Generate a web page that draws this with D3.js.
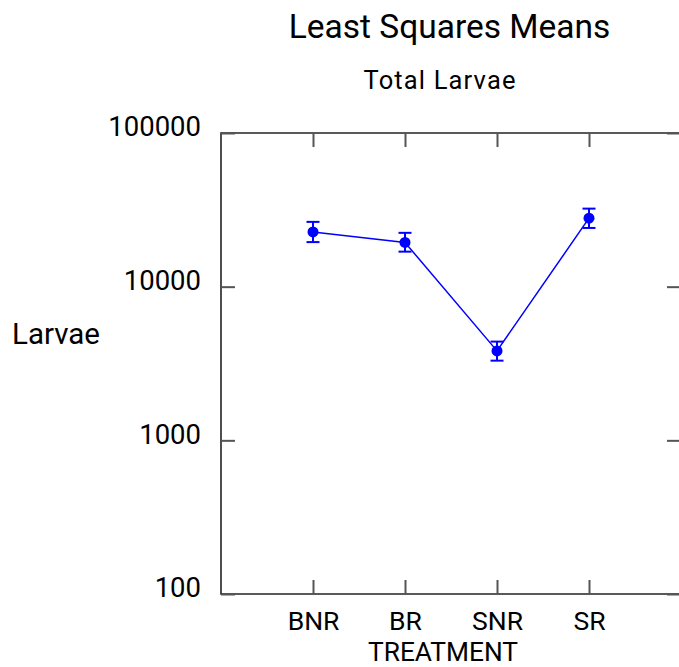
<!DOCTYPE html>
<html>
<head>
<meta charset="utf-8">
<script src="https://cdn.jsdelivr.net/npm/d3@7"></script>
<style>
  html, body { margin: 0; padding: 0; background: #fff; overflow: hidden; width: 679px; height: 667px; }
  svg { display: block; }
  text { font-family: Roboto, "Liberation Sans", Arial, sans-serif; fill: #000; }
</style>
</head>
<body>
<script>
const categories = ["BNR", "BR", "SNR", "SR"];
const means = [22700, 19400, 3820, 27900];
const upper = [26400, 22400, 4390, 32200];
const lower = [19500, 16900, 3300, 24100];
const yTicks = [100, 1000, 10000, 100000];
const yTickLabels = ["100", "1000", "10000", "100000"];

const W = 679, H = 667;
const svg = d3.select("body").append("svg").attr("width", W).attr("height", H);

const pLeft = 221, pRight = 681, pTop = 133, pBottom = 594;

const x = d3.scalePoint().domain(categories).range([pLeft, pRight]).padding(1);
const y = d3.scaleLog().domain([100, 100000]).range([pBottom, pTop]);

// frame (right edge lies just outside the picture)
const frame = svg.append("g").attr("stroke", "#222").attr("stroke-width", 1.6).attr("fill", "none");
frame.append("line").attr("x1", pLeft).attr("x2", W).attr("y1", pTop).attr("y2", pTop);
frame.append("line").attr("x1", pLeft).attr("x2", W).attr("y1", pBottom).attr("y2", pBottom);
frame.append("line").attr("x1", pLeft).attr("x2", pLeft).attr("y1", pTop - 0.8).attr("y2", pBottom + 0.8);

const tickLen = 14;
const tickColor = "#555";
const fontFam = "Roboto, 'Liberation Sans', Arial, sans-serif";

// y axis (left) with inward ticks
const yAxisL = d3.axisLeft(y).tickValues(yTicks)
  .tickFormat((d, i) => yTickLabels[i]).tickSizeInner(-tickLen).tickSizeOuter(0).tickPadding(20);
const gL = svg.append("g").attr("transform", `translate(${pLeft},0)`).call(yAxisL);
gL.select(".domain").remove();
gL.selectAll(".tick line").attr("stroke", tickColor).attr("stroke-width", 2);
gL.selectAll(".tick text").attr("font-size", 27.5).attr("dy", "0.1em")
  .attr("fill", "#000").style("font-family", fontFam);

// y axis right inward ticks
const yAxisR = d3.axisRight(y).tickValues(yTicks).tickFormat("").tickSizeInner(-tickLen).tickSizeOuter(0);
const gR = svg.append("g").attr("transform", `translate(${pRight},0)`).call(yAxisR);
gR.select(".domain").remove();
gR.selectAll(".tick line").attr("stroke", tickColor).attr("stroke-width", 2);

// x axis bottom
const xAxisB = d3.axisBottom(x).tickSizeInner(-tickLen).tickSizeOuter(0).tickPadding(17);
const gB = svg.append("g").attr("transform", `translate(0,${pBottom})`).call(xAxisB);
gB.select(".domain").remove();
gB.selectAll(".tick line").attr("stroke", tickColor).attr("stroke-width", 2);
gB.selectAll(".tick text").attr("font-size", 26.5)
  .attr("fill", "#000").style("font-family", fontFam);

// x axis top
const xAxisT = d3.axisTop(x).tickFormat("").tickSizeInner(-tickLen).tickSizeOuter(0);
const gT = svg.append("g").attr("transform", `translate(0,${pTop})`).call(xAxisT);
gT.select(".domain").remove();
gT.selectAll(".tick line").attr("stroke", tickColor).attr("stroke-width", 2);

// data
const data = categories.map((c, i) => ({ c, m: means[i], u: upper[i], l: lower[i] }));
const blue = "#0000ff";

svg.append("path").datum(data)
  .attr("fill", "none").attr("stroke", blue).attr("stroke-width", 1.5)
  .attr("d", d3.line().x(d => x(d.c)).y(d => y(d.m)));

const eb = svg.append("g").attr("stroke", blue).attr("stroke-width", 2);
eb.selectAll(".v").data(data).join("line").attr("class", "v")
  .attr("x1", d => x(d.c)).attr("x2", d => x(d.c))
  .attr("y1", d => y(d.u)).attr("y2", d => y(d.l));
eb.selectAll(".cu").data(data).join("line").attr("class", "cu")
  .attr("x1", d => x(d.c) - 6.5).attr("x2", d => x(d.c) + 6.5)
  .attr("y1", d => y(d.u)).attr("y2", d => y(d.u));
eb.selectAll(".cl").data(data).join("line").attr("class", "cl")
  .attr("x1", d => x(d.c) - 6.5).attr("x2", d => x(d.c) + 6.5)
  .attr("y1", d => y(d.l)).attr("y2", d => y(d.l));

svg.append("g").selectAll("circle").data(data).join("circle")
  .attr("cx", d => x(d.c)).attr("cy", d => y(d.m)).attr("r", 5.5)
  .attr("fill", blue);

// titles
svg.append("text").attr("x", 449.5).attr("y", 38).attr("text-anchor", "middle")
  .attr("font-size", 33.5).text("Least Squares Means");
svg.append("text").attr("x", 439.5).attr("y", 89).attr("text-anchor", "middle")
  .attr("font-size", 25.5).attr("textLength", 152).attr("lengthAdjust", "spacing")
  .text("Total Larvae");
svg.append("text").attr("x", 12).attr("y", 344).attr("text-anchor", "start")
  .attr("font-size", 29.5).text("Larvae");
svg.append("text").attr("x", 443).attr("y", 660.5).attr("text-anchor", "middle")
  .attr("font-size", 26).attr("textLength", 150).attr("lengthAdjust", "spacingAndGlyphs")
  .text("TREATMENT");
</script>
</body>
</html>
